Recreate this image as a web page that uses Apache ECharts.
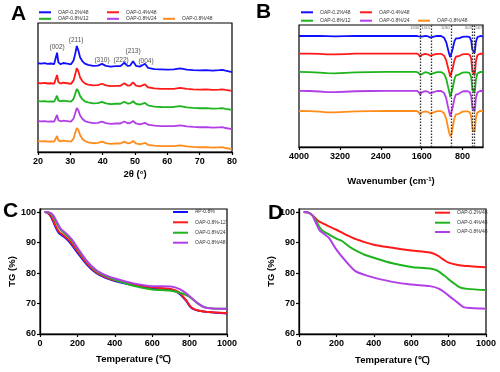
<!DOCTYPE html>
<html><head><meta charset="utf-8">
<script src="https://cdn.jsdelivr.net/npm/echarts@6/dist/echarts.min.js"></script>
<style>html,body{margin:0;padding:0;background:#fff}#c{width:500px;height:372px}</style>
</head><body><div id="c"></div>
<script>
const FONT = 'Arial, "Liberation Sans", sans-serif';
const COLORS = {blue:'#1010ff', red:'#ff1a1a', green:'#1db41d', purple:'#b23ee8', orange:'#ff8c1a'};

// ---------- Panel A : XRD ----------
const xrdNames = ['OAP-0.2%/48','OAP-0.4%/48','OAP-0.8%/12','OAP-0.8%/24','OAP-0.8%/48'];
const xrdTheta = [20,21,22,23,24,25,25.5,25.9,26.3,27,27.8,28.3,29,29.5,30.2,31,31.5,32,32.5,33,33.7,34.5,35.5,37,38.5,39.8,41,42.5,44,45.5,46.7,47.7,48.5,49.4,50.3,51.5,53.1,54,56,58,60,62,64,66,68,70,72,74,76,77,78,80];
const xrdBlue = [68.8,68.5,68.9,68.3,68.6,68.2,69.5,77,69.5,68,69,70,68.5,69,68,71,76,82.2,78.5,73.5,70.5,68.5,67.5,66.8,67,68.3,66.8,66.2,66.5,66.6,69.2,66.8,67,70.3,66.8,66.2,68.4,65.3,64.2,64,63.8,64,64.8,63.8,63.5,63.3,63.4,63.1,63.4,63.6,63,62];
const xrdRed = [53.5,53.2,53.6,53.1,53.3,53,54,59.7,54.2,53,53.8,54.5,53.3,53.7,52.8,55.5,60,65.1,62.5,58,55,53.2,52.3,51.6,51.8,52.9,51.6,51,51.3,51.3,53.3,51.5,51.6,54,51.4,50.9,52.4,50.2,49.3,49,48.9,49,49.7,48.9,48.5,48.3,48.5,48.2,48.4,48.6,48.1,47.3];
const xrdGreen = [39.5,39.2,39.5,39.1,39.3,39,39.8,43.6,40,39.2,39.8,40.5,39.4,39.8,39,41.2,45,48.8,47,43.5,41,39.3,38.4,37.7,37.9,38.8,37.7,37.1,37.4,37.4,39,37.6,37.7,39.3,37.4,36.8,38,36.1,35.2,34.9,34.8,34.9,35.6,34.6,34.2,33.9,34,33.6,33.8,34,33.4,32.6];
const xrdPurple = [24,23.7,24,23.6,23.8,23.6,24.4,28.7,24.6,23.8,24.4,25.2,24,24.3,23.6,26,30,34.1,32.2,28.5,25.8,24,23.1,22.4,22.6,23.6,22.4,21.8,22.1,22.1,23.6,22.3,22.4,24,22.1,21.5,22.6,21.2,20.4,20.1,20,20.1,20.7,19.9,19.5,19.2,19.3,18.9,19.1,19.2,18.6,17.8];
const xrdOrange = [8.5,8.2,8.5,8.1,8.3,8,8.8,12.4,9,8.2,8.8,9.5,8.5,8.8,8,10.3,14.5,18.6,17,13.2,10.3,8.5,7.5,6.8,7,8.1,6.9,6.3,6.6,6.6,8,6.8,6.9,8.5,6.6,6,7.1,5.6,4.9,4.6,4.5,4.6,5.2,4.4,4,3.7,3.8,3.4,3.6,3.7,3.1,2.3];
const xrdPeakLabels = ['(002)','(211)','(310)','(222)','(213)','(004)'];
const xrdPeakX = [25.9,31.8,39.8,45.7,49.4,53.4];
const xrdPeakY = [81.6,86.8,70.8,70.8,78.5,70];

// ---------- Panel B : FTIR ----------
const ftirWave = [4000,3800,3600,3450,3300,3100,2900,2600,2300,2000,1800,1700,1660,1630,1600,1530,1470,1430,1415,1380,1300,1220,1160,1120,1090,1060,1040,1030,1015,990,960,930,900,875,850,800,750,700,660,630,610,603,595,580,567,555,540,510,480,450,400];
const ftirBlue = [91,91,91,90.8,90.6,90.8,91,91,91,91,91,91,90.7,89.8,90.5,91,90.6,89.7,89.6,90.3,91,91,89.5,86,81,76,73.5,73,75,81,86.5,89,89.6,89,89.8,90.3,90.5,90.5,90,87,80,79,81,80,77,80,86,90,90.8,91,90.5];
const ftirRed = [76.5,76.5,76.3,76,75.9,76.2,76.5,76.5,76.5,76.5,76.5,76.5,75.8,73.8,75.5,76.3,75.8,74.7,74.6,75.5,76.4,76.4,74.8,71,66,61,57.5,56.5,59,65,71,74,75,74.4,75.3,76,76.2,76.2,75.6,72.5,63,61,63,62,58.5,62,70,75.2,76.3,76.6,76.3];
const ftirGreen = [61.5,61.4,61,60.5,60.4,60.8,61.2,61.4,61.5,61.5,61.5,61.5,60.8,59,60.5,61.3,60.8,59.6,59.5,60.4,61.4,61.4,59.8,56,50.5,45,41,40,42.5,49,55.5,58.8,60,59.3,60.3,61,61.2,61.2,60.5,57,48,46,48,47,44,47.5,55,60.2,61.3,61.6,61.3];
const ftirPurple = [46,45.9,45.5,45,44.9,45.3,45.7,45.9,46,46,46,46,45.2,42.8,44.8,45.8,45.2,43.9,43.8,44.8,45.9,45.9,44.2,40,34,28.5,25,24,26.5,33,39.5,43,44.4,43.6,44.7,45.5,45.7,45.7,45,41.5,33,31,33,32,29,32.5,40,44.7,45.8,46.1,45.8];
const ftirOrange = [29.5,29.4,29,28.4,28.3,28.8,29.2,29.4,29.5,29.5,29.5,29.5,28.6,26.5,28.3,29.2,28.6,27.2,27.1,28.2,29.4,29.4,27.6,23.2,17,11.5,8.8,8.2,10.5,17,23.5,26.8,28,27.2,28.3,29,29.2,29.2,28.5,25,16.5,14.5,16,15,12.3,16,23.5,28.3,29.3,29.6,29.3];
const ftirMarkWave = [1630,1415,1030,603,567];
const ftirMarkLabels = ['1630','1415','1030','603','567'];
const ftirTicks = [800,1600,2400,3200,4000];

// ---------- Panel C : TG ----------
const tgCNames = ['AP-0.8%','OAP-0.8%-12','OAP-0.8%/24','OAP-0.8%/48'];
const tgC_AP = [[25,100],[40,99.8],[60,98.3],[80,95.5],[100,93.2],[130,91.8],[160,90],[200,86.7],[250,82.8],[300,80],[350,78.4],[400,77.4],[500,76],[600,75],[700,74.5],[740,73.5],[780,71],[810,68.5],[850,67.6],[900,67.2],[1000,66.7]];
const tgC_12 = [[25,100],[40,99.8],[60,98.6],[80,96],[100,93.7],[130,92.2],[160,90.5],[200,87.2],[250,83.2],[300,80.3],[350,78.7],[400,77.6],[500,76.3],[600,75.3],[700,74.8],[740,73.8],[780,71.2],[810,68.7],[850,67.6],[900,67.2],[1000,66.8]];
const tgC_24 = [[25,100],[50,99.8],[70,98.6],[90,96.3],[110,94.2],[140,92.6],[170,90.6],[200,88],[250,83.8],[300,80.7],[350,79],[400,77.8],[500,75.8],[600,74.6],[700,74.2],[760,73.3],[800,72.2],[840,70.2],[880,68.8],[920,68.4],[1000,68.3]];
const tgC_48 = [[25,100],[50,99.9],[70,99],[90,96.8],[110,94.6],[140,93],[170,91],[200,88.3],[250,84],[300,81],[350,79.3],[400,78.2],[500,76.6],[600,75.7],[700,75.6],[750,74.6],[800,72.4],[840,70.2],[880,68.7],[920,68.4],[1000,68.3]];

// ---------- Panel D : TG ----------
const tgDNames = ['OAP-0.2%/48','OAP-0.4%/48','OAP-0.8%/48'];
const tgD_02 = [[25,100],[50,99.8],[75,98.8],[100,97.2],[130,96.2],[160,95.3],[200,94.2],[250,92.6],[300,91.2],[400,89.3],[500,88.3],[600,87.4],[700,86.7],[740,85.8],[770,84.5],[800,83.4],[850,82.6],[900,82.3],[1000,81.9]];
const tgD_04 = [[25,100],[50,99.8],[70,99],[90,97.3],[110,95],[130,93.7],[150,93],[200,91.3],[230,90.5],[270,88.6],[300,87.5],[350,86],[400,85],[500,83.2],[600,82],[700,81.5],[740,80.8],[780,79],[820,77],[860,75.3],[900,74.8],[1000,74.4]];
const tgD_08 = [[25,100],[50,99.8],[70,99],[90,96.5],[110,94],[130,93],[160,91.5],[200,87.7],[250,83.9],[300,80.7],[350,79.4],[400,78.5],[500,77.1],[600,76.2],[700,75.7],[750,74.8],[800,72.6],[850,70.2],[880,68.8],[920,68.5],[1000,68.3]];
const tgTicksY = [60,70,80,90,100];

// ---------- helpers ----------
const zip = (xs, ys) => xs.map((x, i) => [x, ys[i]]);
const axisBase = () => ({
  axisLine: {show: true, lineStyle: {color: '#000', width: 1.3}},
  axisTick: {show: true, length: 3, inside: false, lineStyle: {color: '#000', width: 1.2}},
  axisLabel: {fontSize: 9, fontWeight: 'bold', color: '#000', fontFamily: FONT, margin: 5, formatter: v => String(v)},
  splitLine: {show: false},
  nameTextStyle: {fontSize: 9.5, fontWeight: 'bold', color: '#000', fontFamily: FONT},
  nameLocation: 'middle'
});
function lineSeries(panel, name, color, data, xi, width, smooth) {
  return {type: 'line', name: panel + '|' + name, xAxisIndex: xi, yAxisIndex: xi, data,
    symbol: 'none', showSymbol: false, smooth: smooth,
    lineStyle: {color, width}, itemStyle: {color}, silent: true};
}
function leg(panel, name, left, rowY, lw) {
  return {show: true, data: [panel + '|' + name], left, top: rowY - 3, padding: 0,
    itemWidth: lw, itemHeight: 2, icon: 'rect', selectedMode: false,
    formatter: n => n.split('|')[1],
    textStyle: {fontSize: 5, color: '#333', fontFamily: FONT, lineHeight: 6, padding: [0, 0, 0, 2]}};
}

const grids = [
  {left: 38, top: 23, width: 194, height: 129},
  {left: 299, top: 25, width: 184, height: 122},
  {left: 40, top: 209, width: 187, height: 125},
  {left: 299, top: 209, width: 187, height: 125}
].map(g => Object.assign(g, {show: true, borderColor: '#000', borderWidth: 1.2, backgroundColor: 'transparent', containLabel: false}));

const xAxes = [
  Object.assign(axisBase(), {gridIndex: 0, type: 'value', min: 20, max: 80, interval: 10, name: '2θ (°)', nameGap: 17}),
  Object.assign(axisBase(), {gridIndex: 1, type: 'value', min: 400, max: 4000, inverse: true,
    name: 'Wavenumber (cm{sup|-1})', nameGap: 29}),
  Object.assign(axisBase(), {gridIndex: 2, type: 'value', min: 0, max: 1000, interval: 200, name: 'Temperature (℃)', nameGap: 20}),
  Object.assign(axisBase(), {gridIndex: 3, type: 'value', min: 0, max: 1000, interval: 200, name: 'Temperature (℃)', nameGap: 21})
];
xAxes[1].axisLabel.customValues = ftirTicks;
xAxes[1].axisTick.customValues = ftirTicks;
xAxes[1].nameTextStyle.rich = {sup: {fontSize: 6, fontWeight: 'bold', verticalAlign: 'top', padding: [0, 0, 5, 0]}};

const yAxes = [
  {gridIndex: 0, type: 'value', min: 0, max: 100, show: false},
  {gridIndex: 1, type: 'value', min: 0, max: 100, show: false},
  Object.assign(axisBase(), {gridIndex: 2, type: 'value', min: 60, max: 101, interval: 10, name: 'TG (%)', nameGap: 22}),
  Object.assign(axisBase(), {gridIndex: 3, type: 'value', min: 60, max: 101, interval: 10, name: 'TG (%)', nameGap: 22})
];
[2, 3].forEach(i => {
  yAxes[i].axisLabel.customValues = tgTicksY;
  yAxes[i].axisTick.customValues = tgTicksY;
  yAxes[i].axisLabel.formatter = v => (v % 10 === 0 ? String(v) : '');
  yAxes[i].axisLabel.margin = 4;
});

const xrdSeriesData = [xrdBlue, xrdRed, xrdGreen, xrdPurple, xrdOrange];
const ftirSeriesData = [ftirBlue, ftirRed, ftirGreen, ftirPurple, ftirOrange];
const abColors = [COLORS.blue, COLORS.red, COLORS.green, COLORS.purple, COLORS.orange];

const series = [];
xrdSeriesData.forEach((d, i) => series.push(lineSeries('A', xrdNames[i], abColors[i], zip(xrdTheta, d), 0, 1.8, false)));
series.push({type: 'scatter', xAxisIndex: 0, yAxisIndex: 0, symbolSize: 0, silent: true,
  data: xrdPeakX.map((x, i) => ({value: [x, xrdPeakY[i]], name: xrdPeakLabels[i]})),
  label: {show: true, position: 'inside', formatter: p => p.name, fontSize: 6.5, color: '#222', fontFamily: FONT}});
ftirSeriesData.forEach((d, i) => series.push(lineSeries('B', xrdNames[i], abColors[i], zip(ftirWave, d), 1, 1.8, false)));
series.push({type: 'scatter', xAxisIndex: 1, yAxisIndex: 1, symbolSize: 0, silent: true,
  data: ftirMarkWave.map((x, i) => ({value: [x, 97.6], name: ftirMarkLabels[i],
    label: {position: i === ftirMarkWave.length - 1 ? 'right' : 'left', distance: 1}})),
  label: {show: true, formatter: p => p.name, fontSize: 4, color: '#444', fontFamily: FONT},
  markLine: {silent: true, symbol: ['none', 'none'], label: {show: false},
    lineStyle: {type: [1.5, 1.5], color: '#333', width: 1.3},
    data: ftirMarkWave.map(w => ({xAxis: w}))}});
const cData = [tgC_AP, tgC_12, tgC_24, tgC_48];
const cColors = [COLORS.blue, COLORS.red, COLORS.green, COLORS.purple];
cData.forEach((d, i) => series.push(lineSeries('C', tgCNames[i], cColors[i], d, 2, 2, 0.3)));
const dData = [tgD_02, tgD_04, tgD_08];
const dColors = [COLORS.red, COLORS.green, COLORS.purple];
dData.forEach((d, i) => series.push(lineSeries('D', tgDNames[i], dColors[i], d, 3, 2, 0.3)));

const legends = [
  leg('A', xrdNames[0], 39, 12.3, 12), leg('A', xrdNames[1], 107, 12.3, 12),
  leg('A', xrdNames[2], 39, 18.8, 12), leg('A', xrdNames[3], 107, 18.8, 12), leg('A', xrdNames[4], 163, 18.8, 12),
  leg('B', xrdNames[0], 301, 12.3, 12), leg('B', xrdNames[1], 360, 12.3, 12),
  leg('B', xrdNames[2], 301, 20.7, 12), leg('B', xrdNames[3], 360, 20.7, 12), leg('B', xrdNames[4], 418, 20.7, 12),
  leg('C', tgCNames[0], 173, 212, 15), leg('C', tgCNames[1], 173, 222.3, 15),
  leg('C', tgCNames[2], 173, 232.7, 15), leg('C', tgCNames[3], 173, 242.7, 15),
  leg('D', tgDNames[0], 435, 212.7, 15), leg('D', tgDNames[1], 435, 222.7, 15), leg('D', tgDNames[2], 435, 232, 15)
];

const letter = (t, left, top) => ({type: 'text', left, top, silent: true,
  style: {text: t, fontSize: 21, fontWeight: 'bold', fontFamily: FONT, fill: '#000'}});

const chart = echarts.init(document.getElementById('c'), null, {renderer: 'canvas'});
chart.setOption({
  animation: false,
  backgroundColor: '#fff',
  grid: grids,
  xAxis: xAxes,
  yAxis: yAxes,
  legend: legends,
  series,
  graphic: [letter('A', 11, 4), letter('B', 256, 2), letter('C', 3, 201), letter('D', 268, 203)]
});
</script></body></html>
